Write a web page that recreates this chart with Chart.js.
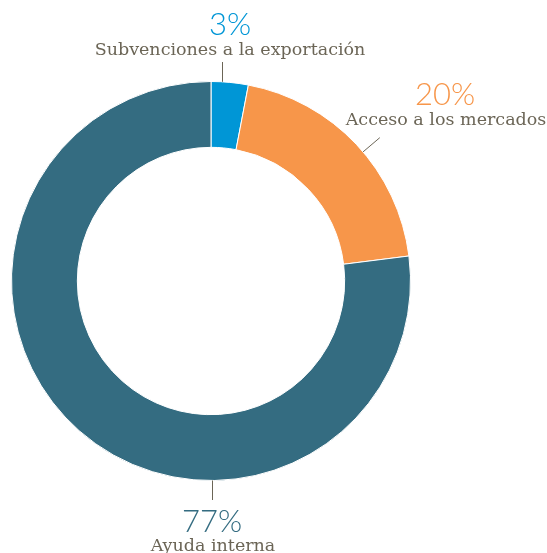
<!DOCTYPE html>
<html>
<head>
<meta charset="utf-8">
<script src="https://cdn.jsdelivr.net/npm/chart.js@4.4.1/dist/chart.umd.min.js"></script>
<style>
  html, body { margin: 0; padding: 0; background: #ffffff; }
  #wrap { width: 547px; height: 553px; position: relative; }
</style>
</head>
<body>
<div id="wrap"><canvas id="c" width="547" height="553"></canvas></div>
<script>
// ---- data ----
const categories = ['Subvenciones a la exportación', 'Acceso a los mercados', 'Ayuda interna'];
const values = [3, 20, 77];
const percentLabels = ['3%', '20%', '77%'];
const colors = ['#0096d6', '#f7964a', '#346c81'];

// ---- label layout (offsets from the doughnut centre, px) ----
const labelLayout = [
  { pctX: 19, pctY: -246, nameX: 19, nameY: -226, leader: { type: 'v', dx: 11, y1: -219 } },
  { pctX: 234, pctY: -176, nameX: 235, nameY: -156, leader: { type: 'r', r1: 1.0, r2: 1.11 } },
  { pctX: 1, pctY: 251, nameX: 2, nameY: 270, leader: { type: 'v', dx: 1, y1: 219 } }
];

const labelPlugin = {
  id: 'labelPlugin',
  afterDraw(chart) {
    const ctx = chart.ctx;
    const meta = chart.getDatasetMeta(0);
    meta.data.forEach((arc, i) => {
      const p = arc.getProps(['x', 'y', 'startAngle', 'endAngle', 'outerRadius'], true);
      const cx = p.x, cy = p.y, R = p.outerRadius;
      const L = labelLayout[i];
      ctx.save();
      ctx.strokeStyle = '#6b6556';
      ctx.lineWidth = 1;
      ctx.beginPath();
      if (L.leader.type === 'v') {
        const x = cx + L.leader.dx;
        const yEdge = Math.sqrt(Math.max(R * R - L.leader.dx * L.leader.dx, 0));
        const sign = Math.sign(L.leader.y1);
        ctx.moveTo(Math.round(x) + 0.5, cy + sign * yEdge);
        ctx.lineTo(Math.round(x) + 0.5, cy + L.leader.y1);
      } else {
        const a = (p.startAngle + p.endAngle) / 2 + 0.05;
        ctx.moveTo(cx + Math.cos(a) * R * L.leader.r1, cy + Math.sin(a) * R * L.leader.r1);
        ctx.lineTo(cx + Math.cos(a) * R * L.leader.r2, cy + Math.sin(a) * R * L.leader.r2);
      }
      ctx.stroke();
      ctx.textAlign = 'center';
      ctx.textBaseline = 'alphabetic';
      ctx.fillStyle = colors[i];
      ctx.font = '300 31px Lato';
      ctx.fillText(percentLabels[i], cx + L.pctX, cy + L.pctY);
      ctx.fillStyle = '#6b6556';
      ctx.font = '17.5px "DejaVu Serif"';
      ctx.fillText(categories[i], cx + L.nameX, cy + L.nameY);
      ctx.restore();
    });
  }
};

new Chart(document.getElementById('c'), {
  type: 'doughnut',
  data: {
    labels: categories,
    datasets: [{
      data: values,
      backgroundColor: colors,
      borderColor: '#ffffff',
      borderWidth: 1,
      hoverOffset: 0
    }]
  },
  options: {
    responsive: false,
    animation: false,
    cutout: '67%',
    rotation: 0,
    layout: { padding: { left: 11, right: 136, top: 81, bottom: 72 } },
    plugins: {
      legend: { display: false },
      tooltip: { enabled: false }
    }
  },
  plugins: [labelPlugin]
});
</script>
</body>
</html>
